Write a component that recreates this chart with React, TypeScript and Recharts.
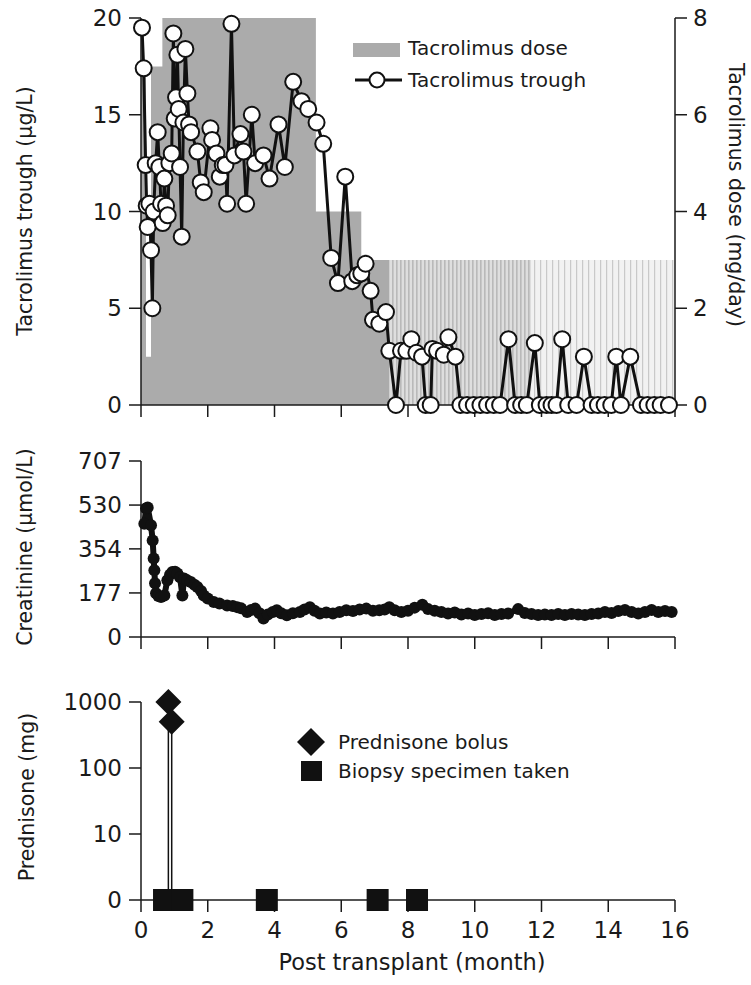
import React from 'react';
import {
  ComposedChart, Area, Line, Scatter, XAxis, YAxis, Legend,
} from 'recharts';

// ---------- data ----------
const monthTicks = [0, 2, 4, 6, 8, 10, 12, 14, 16];

const troughMonths = [
  0.03, 0.08, 0.14, 0.17, 0.2, 0.25, 0.3, 0.34, 0.38, 0.44, 0.5, 0.55, 0.6, 0.65, 0.7, 0.75, 0.8, 0.85, 0.92, 0.97,
  1.01, 1.05, 1.09, 1.13, 1.17, 1.22, 1.27, 1.33, 1.39, 1.44, 1.5, 1.69, 1.79, 1.88, 2.08, 2.13, 2.26, 2.36, 2.45, 2.53,
  2.58, 2.71, 2.8, 2.98, 3.07, 3.15, 3.32, 3.42, 3.67, 3.85, 4.12, 4.31, 4.56, 4.81, 5.01, 5.26, 5.46, 5.7, 5.9, 6.12,
  6.33, 6.48, 6.6, 6.73, 6.88, 6.95, 7.14, 7.34, 7.44, 7.64, 7.79, 7.95, 8.1, 8.25, 8.42, 8.53, 8.68, 8.73, 8.87, 9.07,
  9.21, 9.42, 9.57, 9.77, 9.97, 10.17, 10.37, 10.57, 10.76, 11.01, 11.21, 11.39, 11.56, 11.8, 11.95, 12.15, 12.3, 12.45, 12.62, 12.8,
  13.05, 13.27, 13.5, 13.69, 13.89, 14.09, 14.24, 14.38, 14.66, 14.98, 15.18, 15.38, 15.57, 15.82,
];
const troughValues = [
  19.5, 17.4, 12.4, 10.3, 9.2, 10.4, 8.0, 5.0, 10.0, 12.5, 14.1, 12.3, 10.4, 9.4, 11.7, 10.3, 9.8, 12.5, 13.0, 19.2,
  14.8, 15.9, 18.1, 15.3, 12.3, 8.7, 14.6, 18.4, 16.1, 14.5, 14.1, 13.1, 11.5, 11.0, 14.3, 13.7, 13.0, 11.8, 12.4, 12.4,
  10.4, 19.7, 12.9, 14.0, 13.1, 10.4, 15.0, 12.5, 12.9, 11.7, 14.5, 12.3, 16.7, 15.7, 15.3, 14.6, 13.5, 7.6, 6.3, 11.8,
  6.4, 6.7, 6.8, 7.3, 5.9, 4.4, 4.2, 4.8, 2.8, 0, 2.8, 2.8, 3.4, 2.7, 2.5, 0, 0, 2.9, 2.8, 2.6,
  3.5, 2.5, 0, 0, 0, 0, 0, 0, 0, 3.4, 0, 0, 0, 3.2, 0, 0, 0, 0, 3.4, 0,
  0, 2.5, 0, 0, 0, 0, 2.5, 0, 2.5, 0, 0, 0, 0, 0,
];

const doseMonths = [0, 0.15, 0.3, 0.64, 5.24, 6.6, 7.44];
const doseValues = [7, 1, 7, 8, 4, 3, 3];
const doseAltMonthsA = [7.44, 11.7];
const doseAltValuesA = [3, 3];
const doseAltMonthsB = [11.7, 16];
const doseAltValuesB = [3, 3];

const creatMonths = [
  0.1, 0.15, 0.2, 0.3, 0.35, 0.38, 0.4, 0.42, 0.45, 0.52, 0.6, 0.7, 0.79, 0.87, 0.94, 1.02, 1.09, 1.17, 1.24, 1.29,
  1.38, 1.49, 1.6, 1.69, 1.8, 1.88, 2.0, 2.18, 2.35, 2.58, 2.75, 2.88, 3.0, 3.18, 3.3, 3.42, 3.55, 3.67, 3.8, 3.95,
  4.07, 4.2, 4.37, 4.55, 4.76, 4.9, 5.06, 5.2, 5.36, 5.55, 5.75, 5.95, 6.15, 6.35, 6.55, 6.75, 6.95, 7.14, 7.3, 7.44,
  7.6, 7.8, 8.0, 8.2, 8.43, 8.6, 8.8, 9.0, 9.2, 9.4, 9.6, 9.8, 10.0, 10.2, 10.4, 10.6, 10.8, 11.0, 11.3, 11.5,
  11.7, 11.9, 12.1, 12.3, 12.5, 12.7, 12.9, 13.1, 13.3, 13.5, 13.7, 13.9, 14.1, 14.3, 14.5, 14.7, 14.9, 15.1, 15.3, 15.5,
  15.7, 15.9,
];
const creatValues = [
  455, 516, 520, 449, 388, 315, 268, 216, 176, 165, 161, 167, 228, 250, 261, 262, 255, 240, 167, 235,
  228, 221, 210, 201, 185, 167, 155, 141, 135, 127, 125, 120, 115, 100, 108, 114, 95, 74, 90, 100,
  107, 95, 87, 95, 100, 110, 120, 105, 94, 98, 94, 100, 107, 104, 110, 114, 105, 107, 110, 120,
  107, 100, 105, 118, 130, 112, 105, 100, 94, 98, 90, 94, 88, 92, 95, 88, 92, 94, 112, 96,
  92, 88, 90, 88, 92, 88, 92, 90, 88, 92, 94, 100, 96, 104, 108, 100, 94, 100, 108, 100,
  104, 100,
];

const bolusMonths = [0.82, 0.92];
const bolusValues = [1000, 500];
const biopsyMonths = [0.69, 0.98, 1.24, 3.77, 7.09, 8.27];
const biopsyValues = [1, 1, 1, 1, 1, 1];

const troughTicks = [0, 5, 10, 15, 20];
const doseTicks = [0, 2, 4, 6, 8];
const creatTicks = [0, 177, 354, 530, 707];
const prednisoneTicks = [1, 10, 100, 1000];

// ---------- derived tables ----------
const zip = (ms: number[], vs: number[]) => ms.map((m, i) => ({ m, v: vs[i] }));
const troughData = zip(troughMonths, troughValues);
const doseData = zip(doseMonths, doseValues);
const doseAltDataA = zip(doseAltMonthsA, doseAltValuesA);
const doseAltDataB = zip(doseAltMonthsB, doseAltValuesB);
const creatData = zip(creatMonths, creatValues);
const bolusData = zip(bolusMonths, bolusValues);
const biopsyData = zip(biopsyMonths, biopsyValues);
const dropLines = bolusMonths.map((m, i) => [{ m, v: bolusValues[i] }, { m, v: 1 }]);

// ---------- styles ----------
const FONT = 'DejaVu Sans, sans-serif';
const INK = '#1a1a1a';
const tickFont = { fontSize: 23, fill: INK, fontFamily: FONT };
const axisLine = { stroke: INK, strokeWidth: 1.5 };
const W = 751;
const noTick = () => <g />;

const vTitle = (text: string, x: number, y: number, angle: number) => () => (
  <text
    x={x}
    y={y}
    transform={`rotate(${angle}, ${x}, ${y})`}
    textAnchor="middle"
    dominantBaseline="central"
    fontSize={20.5}
    fontFamily={FONT}
    fill={INK}
  >
    {text}
  </text>
);

const Diamond = (props: any) => {
  const { cx, cy } = props;
  const h = 13;
  return <polygon points={`${cx},${cy - h} ${cx + h},${cy} ${cx},${cy + h} ${cx - h},${cy}`} fill="#111" />;
};
const Square = (props: any) => {
  const { cx, cy } = props;
  const s = 11;
  return <rect x={cx - s} y={cy - s} width={2 * s} height={2 * s} fill="#111" />;
};

const TopLegend = () => (
  <svg width={260} height={65} style={{ overflow: 'visible', display: 'block' }}>
    <rect x={8} y={13} width={47} height={14} fill="#ababab" />
    <text x={63} y={18} dominantBaseline="central" fontSize={20} fontFamily={FONT} fill={INK}>Tacrolimus dose</text>
    <line x1={10} x2={57} y1={50} y2={50} stroke="#111" strokeWidth={3} />
    <circle cx={32} cy={50} r={7.5} fill="#fff" stroke="#111" strokeWidth={2} />
    <text x={63} y={50} dominantBaseline="central" fontSize={20} fontFamily={FONT} fill={INK}>Tacrolimus trough</text>
  </svg>
);

const BottomLegend = () => (
  <svg width={280} height={65} style={{ overflow: 'visible', display: 'block' }}>
    <polygon points="21,4 35,18 21,32 7,18" fill="#111" />
    <text x={48} y={18} dominantBaseline="central" fontSize={20} fontFamily={FONT} fill={INK}>Prednisone bolus</text>
    <rect x={11} y={37} width={21} height={20} fill="#111" />
    <text x={48} y={47} dominantBaseline="central" fontSize={20} fontFamily={FONT} fill={INK}>Biopsy specimen taken</text>
  </svg>
);

const legendWrap = (left: number, top: number) => ({
  left, top, right: 'auto', bottom: 'auto', width: 0, height: 0, overflow: 'visible',
});

export default function App() {
  return (
    <div style={{ position: 'absolute', left: 0, top: 0, width: W, height: 985, background: '#fff' }}>
      {/* Top panel: tacrolimus */}
      <div style={{ position: 'absolute', left: 0, top: 0 }}>
        <ComposedChart width={W} height={420} margin={{ top: 18, right: 0, bottom: 0, left: 0 }}>
          <defs>
            <pattern id="stripeA" width="4" height="10" patternUnits="userSpaceOnUse">
              <rect width="4" height="10" fill="#dedede" />
              <rect width="1.6" height="10" fill="#b9b9b9" />
            </pattern>
            <pattern id="stripeB" width="6" height="10" patternUnits="userSpaceOnUse">
              <rect width="6" height="10" fill="#f2f2f2" />
              <rect width="1.2" height="10" fill="#c9c9c9" />
            </pattern>
          </defs>
          <XAxis
            type="number"
            dataKey="m"
            domain={[0, 16]}
            ticks={monthTicks}
            tick={noTick}
            tickSize={12}
            height={15}
            axisLine={axisLine}
            tickLine={axisLine}
          />
          <YAxis
            yAxisId="left"
            dataKey="v"
            domain={[0, 20]}
            ticks={troughTicks}
            width={141}
            tickSize={12}
            tickMargin={7}
            tick={tickFont}
            axisLine={axisLine}
            tickLine={axisLine}
            label={vTitle('Tacrolimus trough (\u00b5g/L)', 25, 211, -90)}
          />
          <YAxis
            yAxisId="right"
            orientation="right"
            dataKey="v"
            domain={[0, 8]}
            ticks={doseTicks}
            width={76}
            tickSize={12}
            tickMargin={6}
            tick={tickFont}
            axisLine={axisLine}
            tickLine={axisLine}
            label={vTitle('Tacrolimus dose (mg/day)', 736, 195, 90)}
          />
          <Area
            yAxisId="right"
            data={doseData}
            dataKey="v"
            type="stepAfter"
            fill="#ababab"
            fillOpacity={1}
            stroke="none"
            isAnimationActive={false}
          />
          <Area
            yAxisId="right"
            data={doseAltDataA}
            dataKey="v"
            type="stepAfter"
            fill="url(#stripeA)"
            fillOpacity={1}
            stroke="none"
            isAnimationActive={false}
          />
          <Area
            yAxisId="right"
            data={doseAltDataB}
            dataKey="v"
            type="stepAfter"
            fill="url(#stripeB)"
            fillOpacity={1}
            stroke="none"
            isAnimationActive={false}
          />
          <Line
            yAxisId="left"
            data={troughData}
            dataKey="v"
            type="linear"
            stroke="#111"
            strokeWidth={3}
            dot={{ r: 8, fill: '#fff', stroke: '#111', strokeWidth: 2 }}
            activeDot={false}
            isAnimationActive={false}
          />
          <Legend content={TopLegend} wrapperStyle={legendWrap(345, 30)} />
        </ComposedChart>
      </div>

      {/* Middle panel: creatinine */}
      <div style={{ position: 'absolute', left: 0, top: 400 }}>
        <ComposedChart width={W} height={252} margin={{ top: 61, right: 76, bottom: 0, left: 0 }}>
          <XAxis
            type="number"
            dataKey="m"
            domain={[0, 16]}
            ticks={monthTicks}
            tick={noTick}
            tickSize={12}
            height={15}
            axisLine={axisLine}
            tickLine={axisLine}
          />
          <YAxis
            dataKey="v"
            domain={[0, 707]}
            ticks={creatTicks}
            width={141}
            tickSize={12}
            tickMargin={7}
            tick={tickFont}
            axisLine={axisLine}
            tickLine={axisLine}
            label={vTitle('Creatinine (\u00b5mol/L)', 25, 147, -90)}
          />
          <Line
            data={creatData}
            dataKey="v"
            type="linear"
            stroke="#111"
            strokeWidth={6}
            dot={{ r: 6, fill: '#111', stroke: 'none' }}
            activeDot={false}
            isAnimationActive={false}
          />
        </ComposedChart>
      </div>

      {/* Bottom panel: prednisone & biopsy */}
      <div style={{ position: 'absolute', left: 0, top: 652 }}>
        <ComposedChart width={W} height={333} margin={{ top: 50, right: 76, bottom: 0, left: 0 }}>
          <XAxis
            type="number"
            dataKey="m"
            domain={[0, 16]}
            ticks={monthTicks}
            tick={tickFont}
            tickSize={12}
            tickMargin={10}
            height={85}
            axisLine={axisLine}
            tickLine={axisLine}
            label={() => (
              <text x={412} y={318} textAnchor="middle" fontSize={22.5} fontFamily={FONT} fill={INK}>
                Post transplant (month)
              </text>
            )}
          />
          <YAxis
            dataKey="v"
            scale="log"
            domain={[1, 1000]}
            ticks={prednisoneTicks}
            tickFormatter={(v: number) => (v === 1 ? '0' : String(v))}
            width={141}
            tickSize={12}
            tickMargin={7}
            tick={tickFont}
            axisLine={axisLine}
            tickLine={axisLine}
            label={vTitle('Prednisone (mg)', 27, 145, -90)}
          />
          {dropLines.map((d, i) => (
            <Line
              key={i}
              data={d}
              dataKey="v"
              type="linear"
              stroke="#111"
              strokeWidth={1.5}
              dot={false}
              activeDot={false}
              isAnimationActive={false}
            />
          ))}
          <Scatter data={bolusData} dataKey="v" shape={Diamond} isAnimationActive={false} />
          <Scatter data={biopsyData} dataKey="v" shape={Square} isAnimationActive={false} />
          <Legend content={BottomLegend} wrapperStyle={legendWrap(290, 72)} />
        </ComposedChart>
      </div>
    </div>
  );
}
